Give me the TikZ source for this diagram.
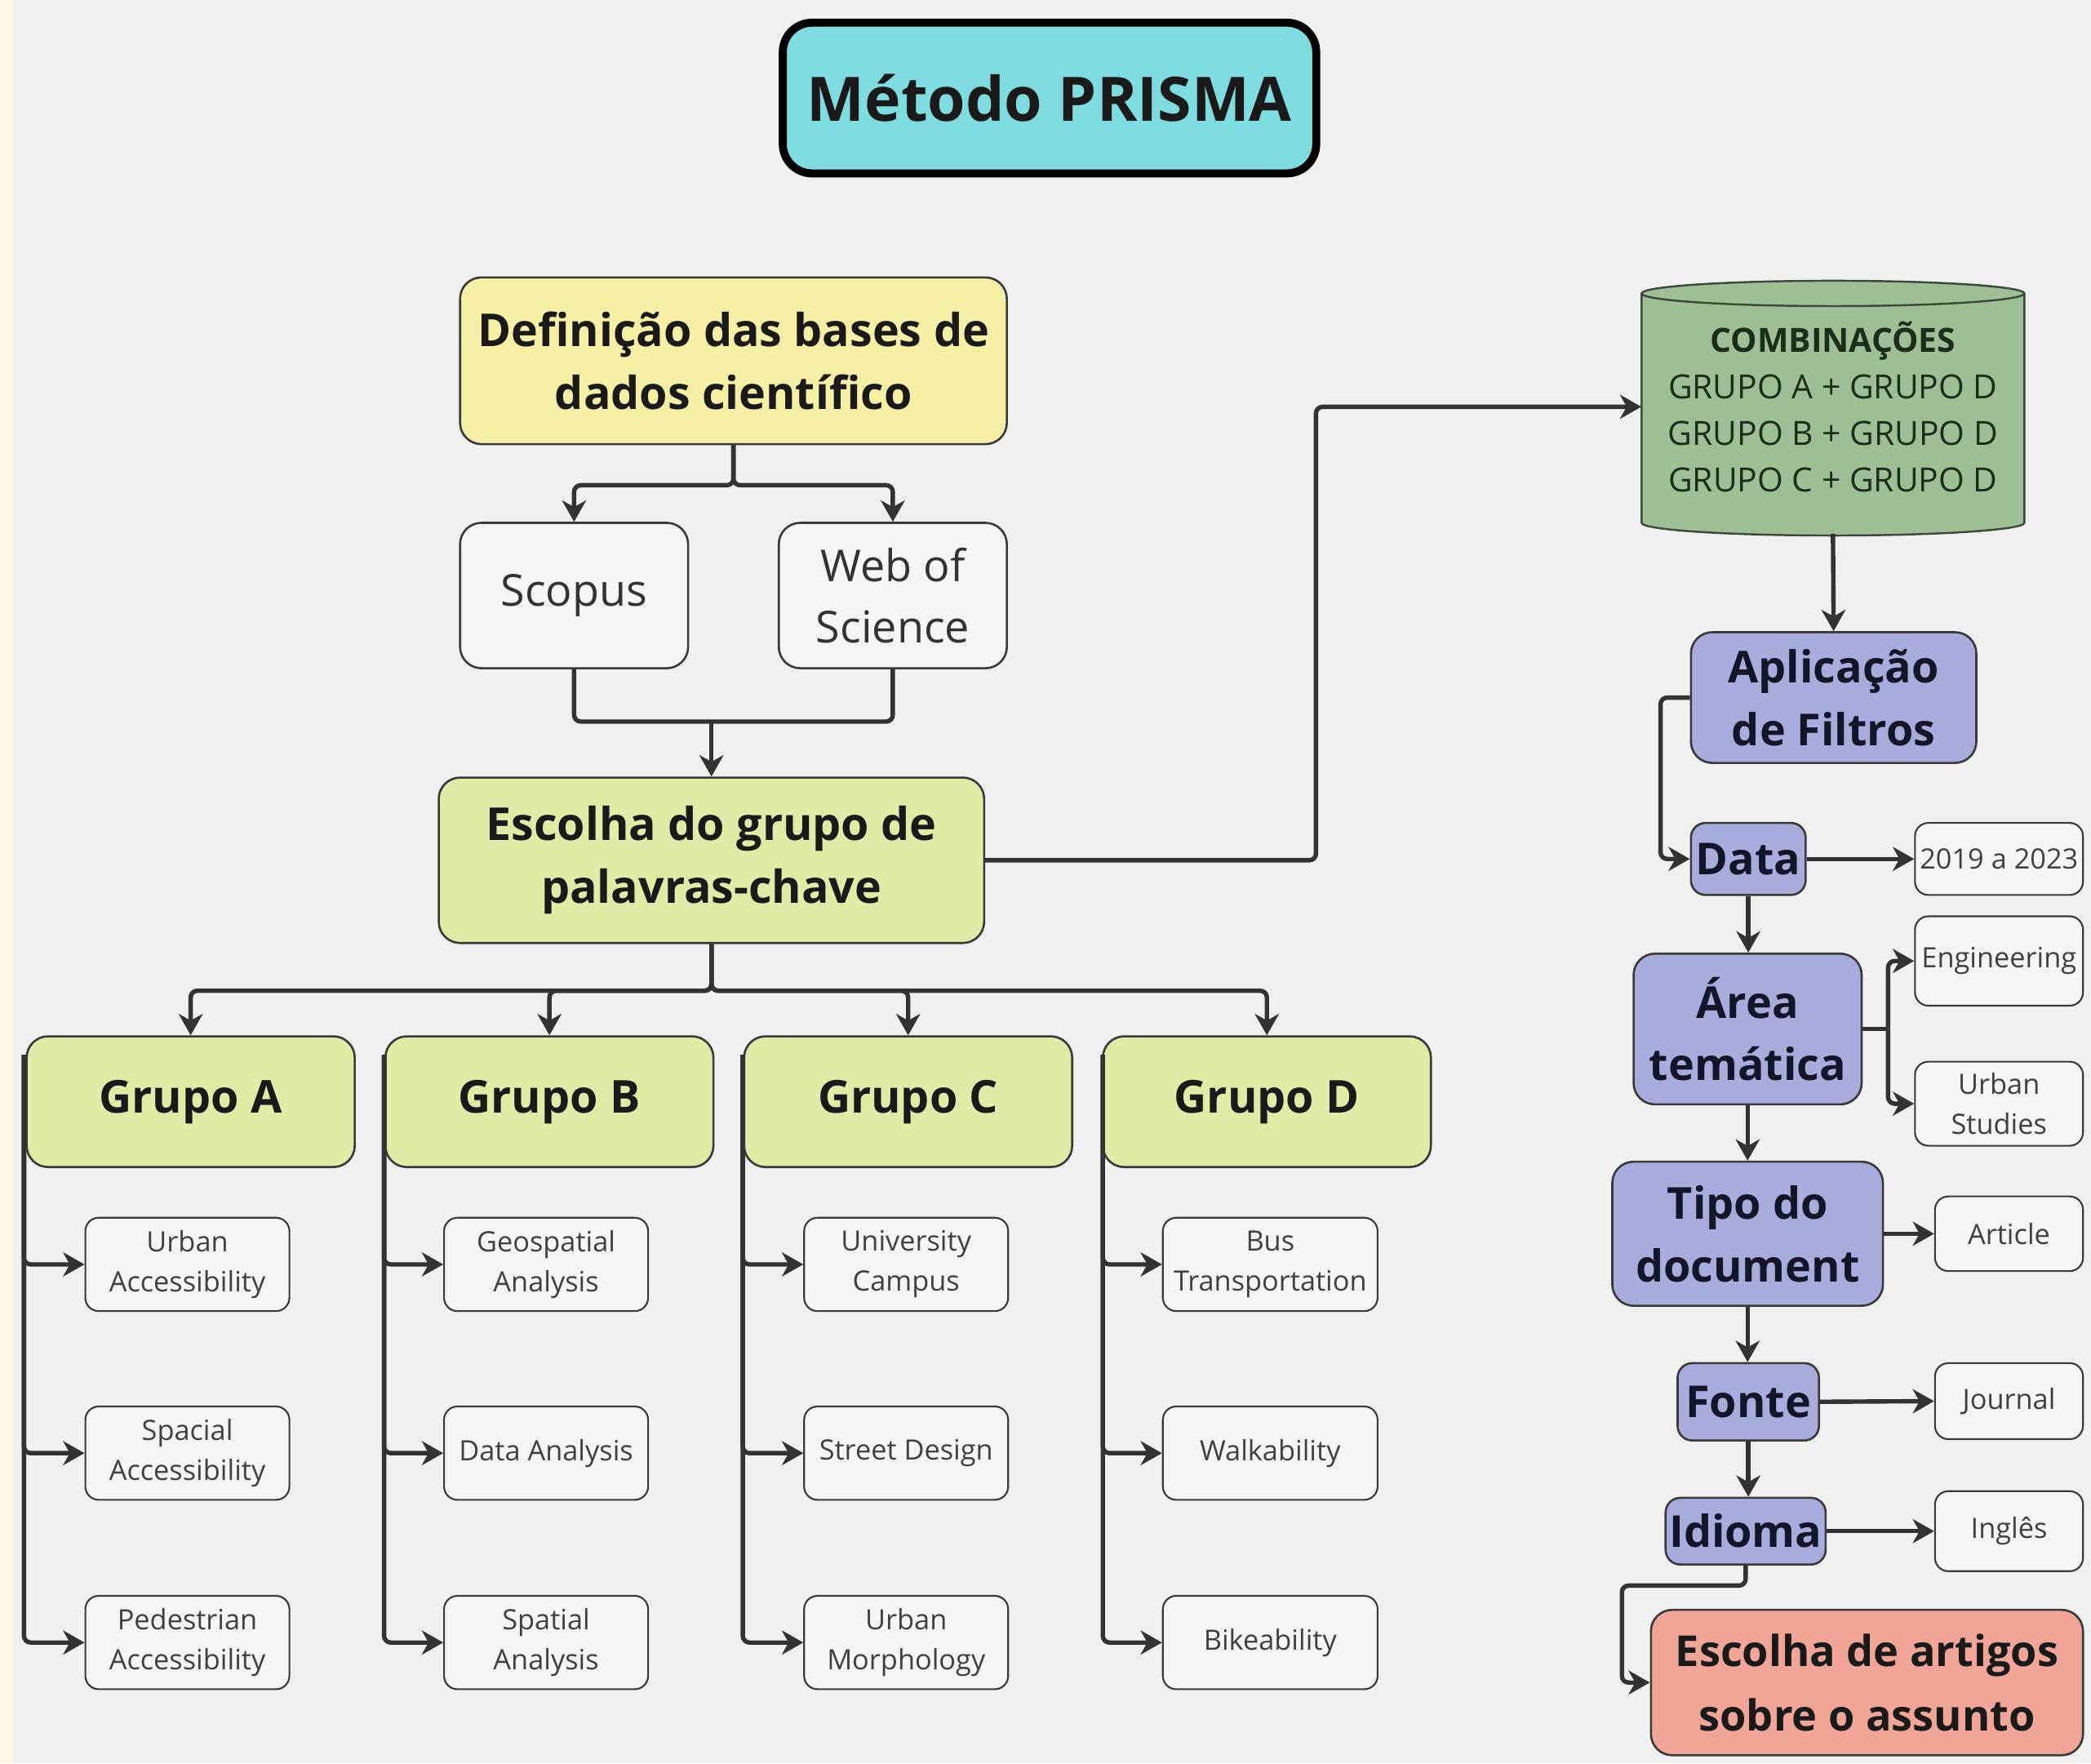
\documentclass[tikz,border=0pt]{standalone}
\usepackage{fontspec}
\setmainfont{Open Sans}
\usetikzlibrary{arrows.meta}
\definecolor{bg}{HTML}{F0F0F0}
\definecolor{cream}{HTML}{FFF7E6}
\definecolor{cyanf}{HTML}{7EDCE0}
\definecolor{yelf}{HTML}{F6F0A6}
\definecolor{limef}{HTML}{E1EBA6}
\definecolor{whitef}{HTML}{F5F5F5}
\definecolor{cylf}{HTML}{9EBF95}
\definecolor{cyll}{HTML}{3C4A3A}
\definecolor{lavf}{HTML}{A8ACDC}
\definecolor{salf}{HTML}{F0A597}
\definecolor{boxline}{HTML}{3A3A3A}
\definecolor{lnc}{HTML}{333333}
\definecolor{txt}{HTML}{1A1A1A}
\definecolor{navy}{HTML}{15152A}
\definecolor{smalltxt}{HTML}{404040}
\definecolor{cyltxt}{HTML}{1B2E1A}
\begin{document}
\begin{tikzpicture}[x=1pt,y=1pt,
  base/.style={draw=boxline, line width=1.6pt, rounded corners=16pt, inner sep=0pt, align=center},
  bigbold/.style={base, font=\fontsize{34}{47}\selectfont\bfseries, text=txt},
  defbox/.style={bigbold, fill=yelf},
  limebox/.style={bigbold, fill=limef},
  dbbox/.style={base, fill=whitef, font=\fontsize{33}{46}\selectfont, text=lnc},
  child/.style={base, line width=1.3pt, rounded corners=10pt, fill=whitef, font=\fontsize{21}{30}\selectfont, text=smalltxt},
  lavbox/.style={base, fill=lavf, font=\fontsize{33}{47}\selectfont\bfseries, text=navy},
  salbox/.style={base, fill=salf, font=\fontsize{32}{48}\selectfont\bfseries, text=txt},
  conn/.style={draw=lnc, line width=3.3pt, rounded corners=5pt},
  arr/.style={conn, -{Stealth[length=16pt,width=18pt,inset=5pt]}},
]
\useasboundingbox (0,0) rectangle (1568,-1322);
\fill[bg] (0,0) rectangle (1568,-1322);
\fill[cream] (0,0) rectangle (10,-1322);

% title
\node[draw=black, line width=6pt, rounded corners=22pt, fill=cyanf, minimum width=400pt, minimum height=113pt, inner sep=0pt,
  font=\fontsize{46}{52}\selectfont\bfseries, text=txt] (title) at (787,-73.5) {Método PRISMA};

% left tree
\node[defbox, minimum width=410pt, minimum height=125pt] (def) at (550,-270.5) {Definição das bases de\\dados científico};
\node[dbbox, minimum width=171pt, minimum height=109pt] (scopus) at (430.5,-446.5) {Scopus};
\node[dbbox, minimum width=171pt, minimum height=109pt] (wos) at (669.5,-446.5) {Web of\\Science};
\node[limebox, minimum width=409pt, minimum height=124pt] (esc) at (533.5,-645) {Escolha do grupo de\\palavras-chave};

\foreach \n/\x/\l in {gA/143/A, gB/412/B, gC/681/C, gD/950/D}
  \node[limebox, minimum width=246pt, minimum height=98pt] (\n) at (\x,-826) {Grupo \l};

\node[child, minimum width=153pt, minimum height=70pt] (a1) at (140.5,-948) {Urban\\Accessibility};
\node[child, minimum width=153pt, minimum height=70pt] (a2) at (140.5,-1089.5) {Spacial\\Accessibility};
\node[child, minimum width=153pt, minimum height=70pt] (a3) at (140.5,-1231.5) {Pedestrian\\Accessibility};
\node[child, minimum width=153pt, minimum height=70pt] (b1) at (409.5,-948) {Geospatial\\Analysis};
\node[child, minimum width=153pt, minimum height=70pt] (b2) at (409.5,-1089.5) {Data Analysis};
\node[child, minimum width=153pt, minimum height=70pt] (b3) at (409.5,-1231.5) {Spatial\\Analysis};
\node[child, minimum width=153pt, minimum height=70pt] (c1) at (679.5,-948) {University\\Campus};
\node[child, minimum width=153pt, minimum height=70pt] (c2) at (679.5,-1089.5) {Street Design};
\node[child, minimum width=153pt, minimum height=70pt] (c3) at (679.5,-1231.5) {Urban\\Morphology};
\node[child, minimum width=161pt, minimum height=70pt] (d1) at (952.5,-948) {Bus\\Transportation};
\node[child, minimum width=161pt, minimum height=70pt] (d2) at (952.5,-1089.5) {Walkability};
\node[child, minimum width=161pt, minimum height=70pt] (d3) at (952.5,-1231.5) {Bikeability};

\coordinate (aT) at (18,-791);
\coordinate (bT) at (288,-791);
\coordinate (cT) at (557,-791);
\coordinate (dT) at (827,-791);
\foreach \g in {a,b,c,d}{
  \draw[arr] (\g T) |- (\g3.west);
  \draw[arr] (\g T) |- (\g2.west);
  \draw[arr] (\g T) |- (\g1.west);
}

\draw[arr] (def.south) -- ++(0,-30) -| (scopus.north);
\draw[arr] (def.south) -- ++(0,-30) -| (wos.north);
\coordinate (m1) at (533.5,-541);
\draw[conn] (scopus.south) |- (m1) -| (wos.south);
\draw[arr] (m1) -- (esc.north);
\foreach \g in {gA,gB,gC,gD}
  \draw[arr] (esc.south) -- ++(0,-35) -| (\g.north);

% cylinder
\fill[cylf] (1231,-220) -- (1231,-392) arc[start angle=180, end angle=360, x radius=143.5pt, y radius=9.5pt]
  -- (1518,-220) arc[start angle=0, end angle=180, x radius=143.5pt, y radius=9.5pt] -- cycle;
\draw[cyll, line width=1.5pt] (1231,-220) -- (1231,-392) arc[start angle=180, end angle=360, x radius=143.5pt, y radius=9.5pt] -- (1518,-220);
\draw[cyll, line width=1.5pt] (1374.5,-220) ellipse[x radius=143.5pt, y radius=9.5pt];
\node[inner sep=0pt, minimum width=287pt, minimum height=190pt, align=center, text=cyltxt,
  font=\fontsize{25}{35}\selectfont] (comb) at (1374.5,-305)
  {\textbf{COMBINAÇÕES}\\GRUPO A + GRUPO D\\GRUPO B + GRUPO D\\GRUPO C + GRUPO D};

\draw[arr] (esc.east) -- ++(248,0) |- (comb.west);

% right column
\node[lavbox, minimum width=214pt, minimum height=98pt] (apl) at (1375,-523) {Aplicação\\de Filtros};
\node[lavbox, rounded corners=11pt, minimum width=86pt, minimum height=54pt] (data) at (1311,-644) {Data};
\node[lavbox, minimum width=171pt, minimum height=113pt] (area) at (1310.5,-771.5) {Área\\temática};
\node[lavbox, minimum width=203pt, minimum height=108pt] (tipo) at (1310.5,-925) {Tipo do\\document};
\node[lavbox, rounded corners=11pt, minimum width=106pt, minimum height=58pt] (fonte) at (1311,-1051) {Fonte};
\node[lavbox, rounded corners=11pt, minimum width=120pt, minimum height=50pt] (idi) at (1309,-1148) {Idioma};
\node[salbox, minimum width=324pt, minimum height=109pt] (esca) at (1400,-1261.5) {Escolha de artigos\\sobre o assunto};

\node[child, minimum width=126pt, minimum height=54pt] (y19) at (1499,-644) {2019 a 2023};
\node[child, minimum width=126pt, minimum height=67pt] (eng) at (1499,-720.5) {Engineering};
\node[child, minimum width=126pt, minimum height=63pt] (urb) at (1499,-827.5) {Urban\\Studies};
\node[child, minimum width=111pt, minimum height=56pt] (art) at (1506.5,-925) {Article};
\node[child, minimum width=111pt, minimum height=57pt] (jour) at (1506.5,-1050.5) {Journal};
\node[child, minimum width=111pt, minimum height=60pt] (ing) at (1506.5,-1148) {Inglês};

\draw[arr] (comb.south) -- (apl.north);
\draw[arr] (apl.west) -- ++(-22,0) |- (data.west);
\draw[arr] (data.east) -- (y19.west);
\draw[arr] (data.south) -- (data.south |- area.north);
\coordinate (ab) at ([xshift=19pt]area.east);
\draw[conn] (area.east) -- (ab);
\draw[arr] (ab) |- (eng.west);
\draw[arr] (ab) |- (urb.west);
\draw[arr] (area.south) -- (tipo.north);
\draw[arr] (tipo.east) -- (art.west);
\draw[arr] (tipo.south) -- (tipo.south |- fonte.north);
\draw[arr] (fonte.east) -- (jour.west);
\draw[arr] (fonte.south) -- (fonte.south |- idi.north);
\draw[arr] (idi.east) -- (ing.west);
\draw[arr] (idi.south) -- ++(0,-15) -| ([xshift=-21pt]esca.west) -- (esca.west);
\end{tikzpicture}
\end{document}
